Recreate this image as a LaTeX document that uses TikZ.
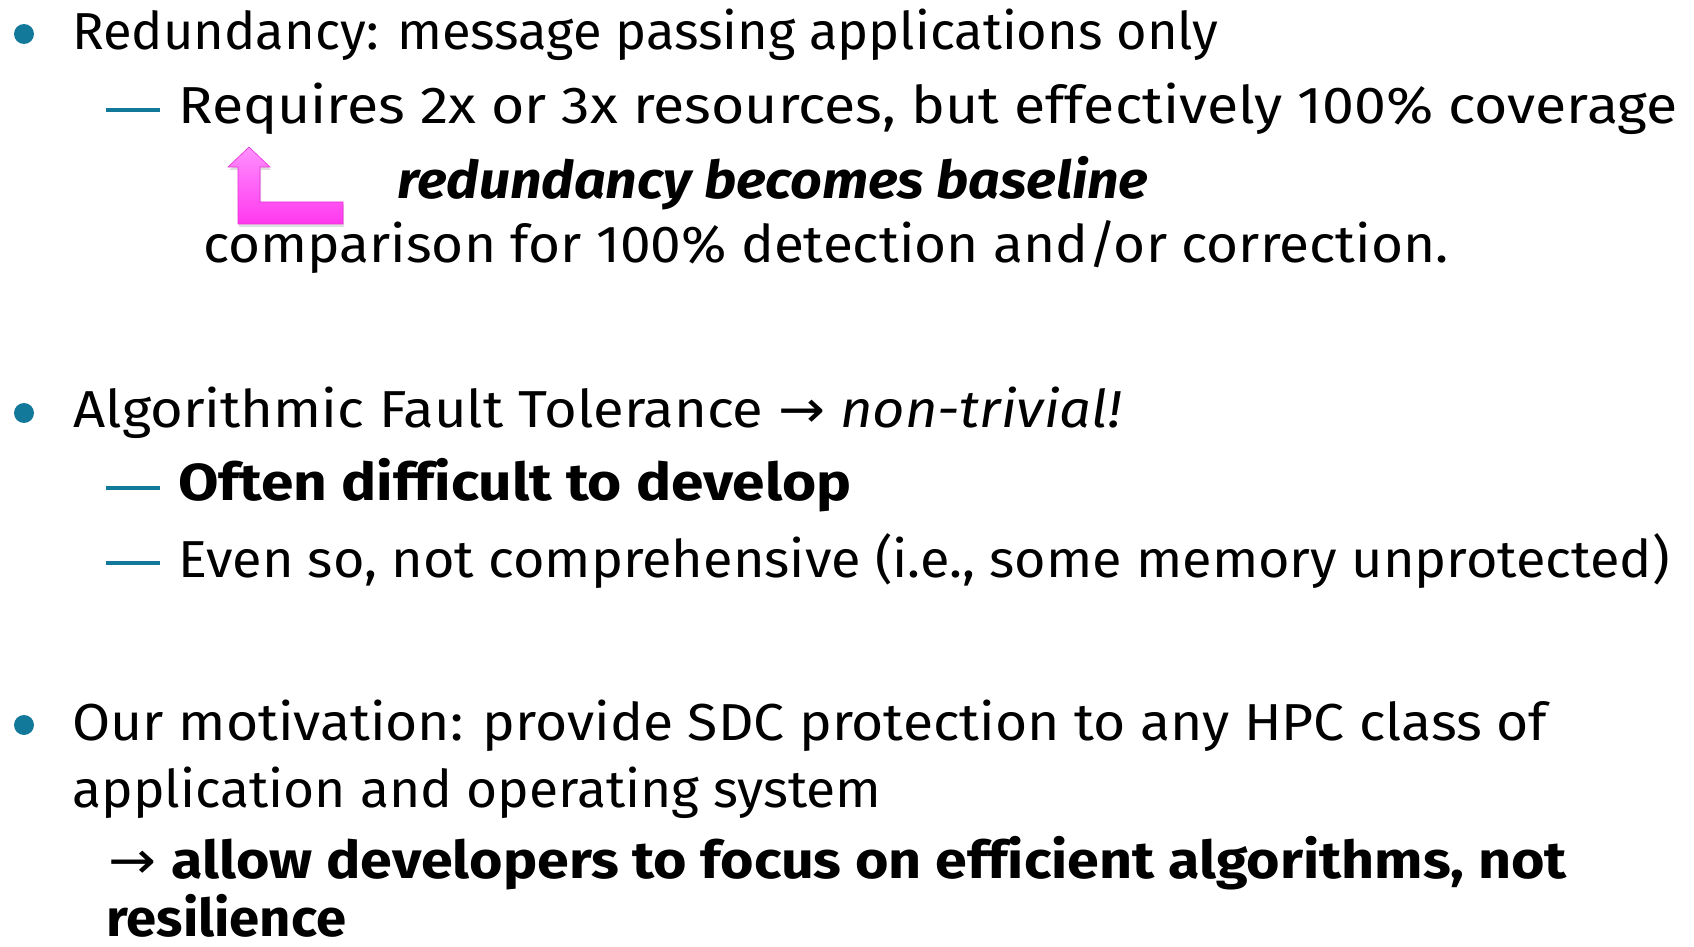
\documentclass[tikz,border=0pt]{standalone}
\usepackage{fontspec}
\setmainfont{Fira Sans}[Ligatures=CommonOff]
\newfontfamily\arrowfont{DejaVu Sans}
\usetikzlibrary{shadows}

% one layout unit is half a point
\newdimen\unitpx
\unitpx=0.5pt
% stretch or squeeze a line to a given width, keeping its height
\newcommand\fitw[2]{\resizebox{#1\unitpx}{\height}{#2}}
% a zero kern that keeps f, f and i apart
\newcommand\nolig{\kern0pt\relax}

\definecolor{bulletteal}{HTML}{13799A}
\definecolor{pinktop}{HTML}{FF90FF}
\definecolor{pinkbot}{HTML}{FF38EE}

\tikzset{
  line/.style={anchor=base west, inner sep=0pt, font=\fontsize{26}{30}\selectfont},
  dot/.style={circle, fill=bulletteal, inner sep=0pt, minimum size=10pt},
  subdash/.style={draw=bulletteal, line width=2pt},
  bentarrow/.style={top color=pinktop, bottom color=pinkbot, draw=pinkbot!90!black, line width=0.3pt,
    drop shadow={opacity=0.25, shadow xshift=0.6pt, shadow yshift=-1.5pt}}
}

\begin{document}
\begin{tikzpicture}[x=0.5pt, y=-0.5pt]
  \path[use as bounding box, fill=white] (0,0) rectangle (1694,947);

  % first bullet
  \node[dot] (b1) at (24,34) {};
  \node[line] (l1) at (72,50) {\fitw{1146}{Redundancy: message passing applications only}};
  \coordinate (d1a) at (106,110); \coordinate (d1b) at (160,110);
  \draw[subdash] (d1a) -- (d1b);
  \node[line] (l2) at (178,124) {\fitw{1499}{Requires 2x or 3x resources, but ef\nolig f\nolig ectively 100\% coverage}};
  \node[line] (l3) at (397,199) {\fitw{751}{\textbf{\textit{redundancy becomes baseline}}}};
  \node[line] (l4) at (203,263) {\fitw{1245}{comparison for 100\% detection and/or correction.}};

  % bent arrow pointing up to the sub-item
  \path[bentarrow] (249,147) -- (270,167) -- (260,167) -- (260,202) -- (343,202)
    -- (343,224) -- (238,224) -- (238,167) -- (228,167) -- cycle;

  % second bullet
  \node[dot] (b2) at (24,413) {};
  \node[line] (l5) at (73,427) {\fitw{1048}{Algorithmic Fault Tolerance {\arrowfont →} \textit{non-trivial!}}};
  \coordinate (d2a) at (106,488); \coordinate (d2b) at (160,488);
  \draw[subdash] (d2a) -- (d2b);
  \node[line] (l6) at (178,500) {\fitw{673}{\textbf{Often dif\nolig f\nolig icult to develop}}};
  \coordinate (d3a) at (106,563); \coordinate (d3b) at (160,563);
  \draw[subdash] (d3a) -- (d3b);
  \node[line] (l7) at (178,577) {\fitw{1491}{Even so, not comprehensive (i.e., some memory unprotected)}};

  % third bullet
  \node[dot] (b3) at (24,725) {};
  \node[line] (l8) at (72,740) {\fitw{1475}{Our motivation: provide SDC protection to any HPC class of}};
  \node[line] (l9) at (72,807) {\fitw{809}{application and operating system}};
  \node[line] (l10) at (108,878) {\fitw{1459}{{\arrowfont →} \textbf{allow developers to focus on ef\nolig f\nolig icient algorithms, not}}};
  \node[line] (l11) at (106,936) {\smash{\fitw{240}{\textbf{resilience}}}};
\end{tikzpicture}
\end{document}
